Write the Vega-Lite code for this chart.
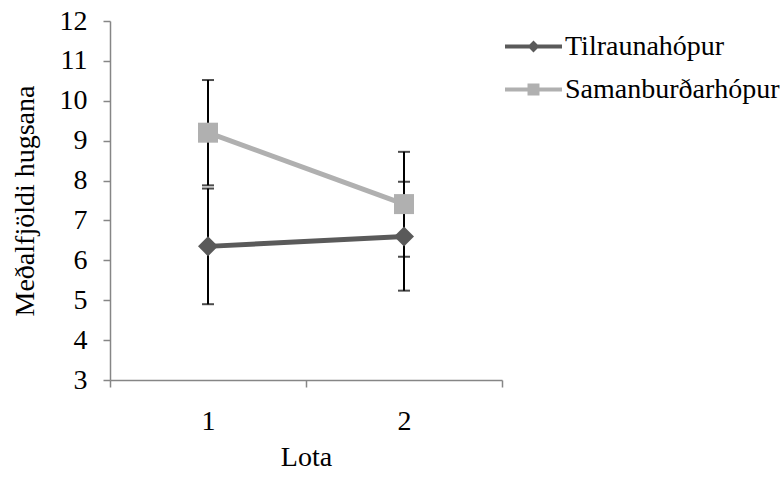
{
  "$schema": "https://vega.github.io/schema/vega-lite/v6.json",
  "autosize": "none",
  "padding": {"left": 110, "top": 21, "right": 281, "bottom": 104},
  "width": 392,
  "height": 359,
  "background": "white",
  "config": {
    "view": {"stroke": null},
    "font": "Liberation Serif",
    "axis": {"grid": false, "domainColor": "#868686", "tickColor": "#868686", "labelColor": "black", "titleColor": "black", "labelFont": "Liberation Serif", "titleFont": "Liberation Serif", "labelFontSize": 28, "titleFontSize": 28, "titleFontWeight": "normal", "domainWidth": 1.5, "tickWidth": 1.5, "labelOverlap": false},
    "legend": {"labelFont": "Liberation Serif", "labelFontSize": 28, "labelColor": "black", "labelLimit": 400, "symbolOpacity": 1}
  },
  "data": {"values": [
    {"series": "Tilraunahópur", "lota": "1", "mean": 6.35, "lo": 4.9, "hi": 7.8},
    {"series": "Tilraunahópur", "lota": "2", "mean": 6.6, "lo": 5.24, "hi": 7.97},
    {"series": "Samanburðarhópur", "lota": "1", "mean": 9.2, "lo": 7.88, "hi": 10.52},
    {"series": "Samanburðarhópur", "lota": "2", "mean": 7.41, "lo": 6.09, "hi": 8.72}
  ]},
  "encoding": {
    "x": {"field": "lota", "type": "ordinal", "title": "Lota", "scale": {"type": "band", "paddingInner": 0, "paddingOuter": 0},
      "axis": {"labelAngle": 0, "tickBand": "extent", "tickSize": 7, "labelPadding": 20, "titlePadding": 8, "labelFontSize": 28}}
  },
  "layer": [
    {
      "mark": {"type": "rule", "color": "black", "strokeWidth": 2},
      "encoding": {
        "y": {"field": "lo", "type": "quantitative", "title": "Meðalfjöldi hugsana", "scale": {"domain": [3, 12], "nice": false, "zero": false},
          "axis": {"values": [3,4,5,6,7,8,9,10,11,12], "labelOverlap": false, "tickSize": 7, "labelPadding": 16, "titlePadding": 20, "labelFontSize": 28}},
        "y2": {"field": "hi"},
        "detail": {"field": "series"}
      }
    },
    {
      "mark": {"type": "tick", "color": "black", "thickness": 2, "size": 12, "orient": "horizontal"},
      "encoding": {"y": {"field": "lo", "type": "quantitative", "title": "Meðalfjöldi hugsana",
        "axis": {"values": [3,4,5,6,7,8,9,10,11,12], "labelOverlap": false, "tickSize": 7, "labelPadding": 16, "titlePadding": 20, "labelFontSize": 28}}}
    },
    {
      "mark": {"type": "tick", "color": "black", "thickness": 2, "size": 12, "orient": "horizontal"},
      "encoding": {"y": {"field": "hi", "type": "quantitative", "title": "Meðalfjöldi hugsana",
        "axis": {"values": [3,4,5,6,7,8,9,10,11,12], "labelOverlap": false, "tickSize": 7, "labelPadding": 16, "titlePadding": 20, "labelFontSize": 28}}}
    },
    {
      "mark": {"type": "line", "strokeWidth": 5},
      "encoding": {
        "y": {"field": "mean", "type": "quantitative", "title": "Meðalfjöldi hugsana",
          "axis": {"values": [3,4,5,6,7,8,9,10,11,12], "labelOverlap": false, "tickSize": 7, "labelPadding": 16, "titlePadding": 20, "labelFontSize": 28}},
        "color": {"field": "series", "type": "nominal",
          "scale": {"domain": ["Tilraunahópur", "Samanburðarhópur"], "range": ["#5a5a5a", "#b0b0b0"]},
          "legend": {"title": null, "orient": "none", "legendX": 395, "legendY": 4, "labelFont": "Liberation Serif", "labelFontSize": 28, "labelColor": "black", "labelLimit": 400, "symbolSize": 3249, "symbolStrokeWidth": 0, "symbolOpacity": 1, "labelOffset": 3, "rowPadding": 0, "clipHeight": 43}}
      }
    },
    {
      "transform": [{"filter": {"field": "series", "equal": "Tilraunahópur"}}],
      "mark": {"type": "point", "shape": "diamond", "filled": true, "opacity": 1, "size": 400, "color": "#5a5a5a"},
      "encoding": {"y": {"field": "mean", "type": "quantitative", "title": "Meðalfjöldi hugsana",
        "axis": {"values": [3,4,5,6,7,8,9,10,11,12], "labelOverlap": false, "tickSize": 7, "labelPadding": 16, "titlePadding": 20, "labelFontSize": 28}}}
    },
    {
      "transform": [{"filter": {"field": "series", "equal": "Samanburðarhópur"}}],
      "mark": {"type": "point", "shape": "square", "filled": true, "opacity": 1, "size": 400, "color": "#b0b0b0"},
      "encoding": {"y": {"field": "mean", "type": "quantitative", "title": "Meðalfjöldi hugsana",
        "axis": {"values": [3,4,5,6,7,8,9,10,11,12], "labelOverlap": false, "tickSize": 7, "labelPadding": 16, "titlePadding": 20, "labelFontSize": 28}}}
    },
    {
      "transform": [{"filter": {"field": "series", "equal": "none"}}],
      "mark": {"type": "point", "filled": true, "opacity": 1},
      "encoding": {
        "fill": {"field": "series", "type": "nominal",
          "scale": {"domain": ["Tilraunahópur", "Samanburðarhópur"], "range": ["#5a5a5a", "#b0b0b0"]},
          "legend": {"title": null, "orient": "none", "legendX": 395, "legendY": 4, "labelFont": "Liberation Serif", "labelFontSize": 28, "labelColor": "black", "labelLimit": 400, "symbolSize": 3249, "symbolStrokeWidth": 0, "symbolOpacity": 1, "labelOffset": 3, "rowPadding": 0, "clipHeight": 43}},
        "shape": {"field": "series", "type": "nominal",
          "scale": {"domain": ["Tilraunahópur", "Samanburðarhópur"], "range": ["M-1,-0.07L1,-0.07L1,0.07L-1,0.07ZM0,-0.21L0.21,0L0,0.21L-0.21,0Z", "M-1,-0.07L1,-0.07L1,0.07L-1,0.07ZM-0.21,-0.21L0.21,-0.21L0.21,0.21L-0.21,0.21Z"]},
          "legend": {"title": null, "orient": "none", "legendX": 395, "legendY": 4, "labelFont": "Liberation Serif", "labelFontSize": 28, "labelColor": "black", "labelLimit": 400, "symbolSize": 3249, "symbolStrokeWidth": 0, "symbolOpacity": 1, "labelOffset": 3, "rowPadding": 0, "clipHeight": 43}}
      }
    }
  ]
}
